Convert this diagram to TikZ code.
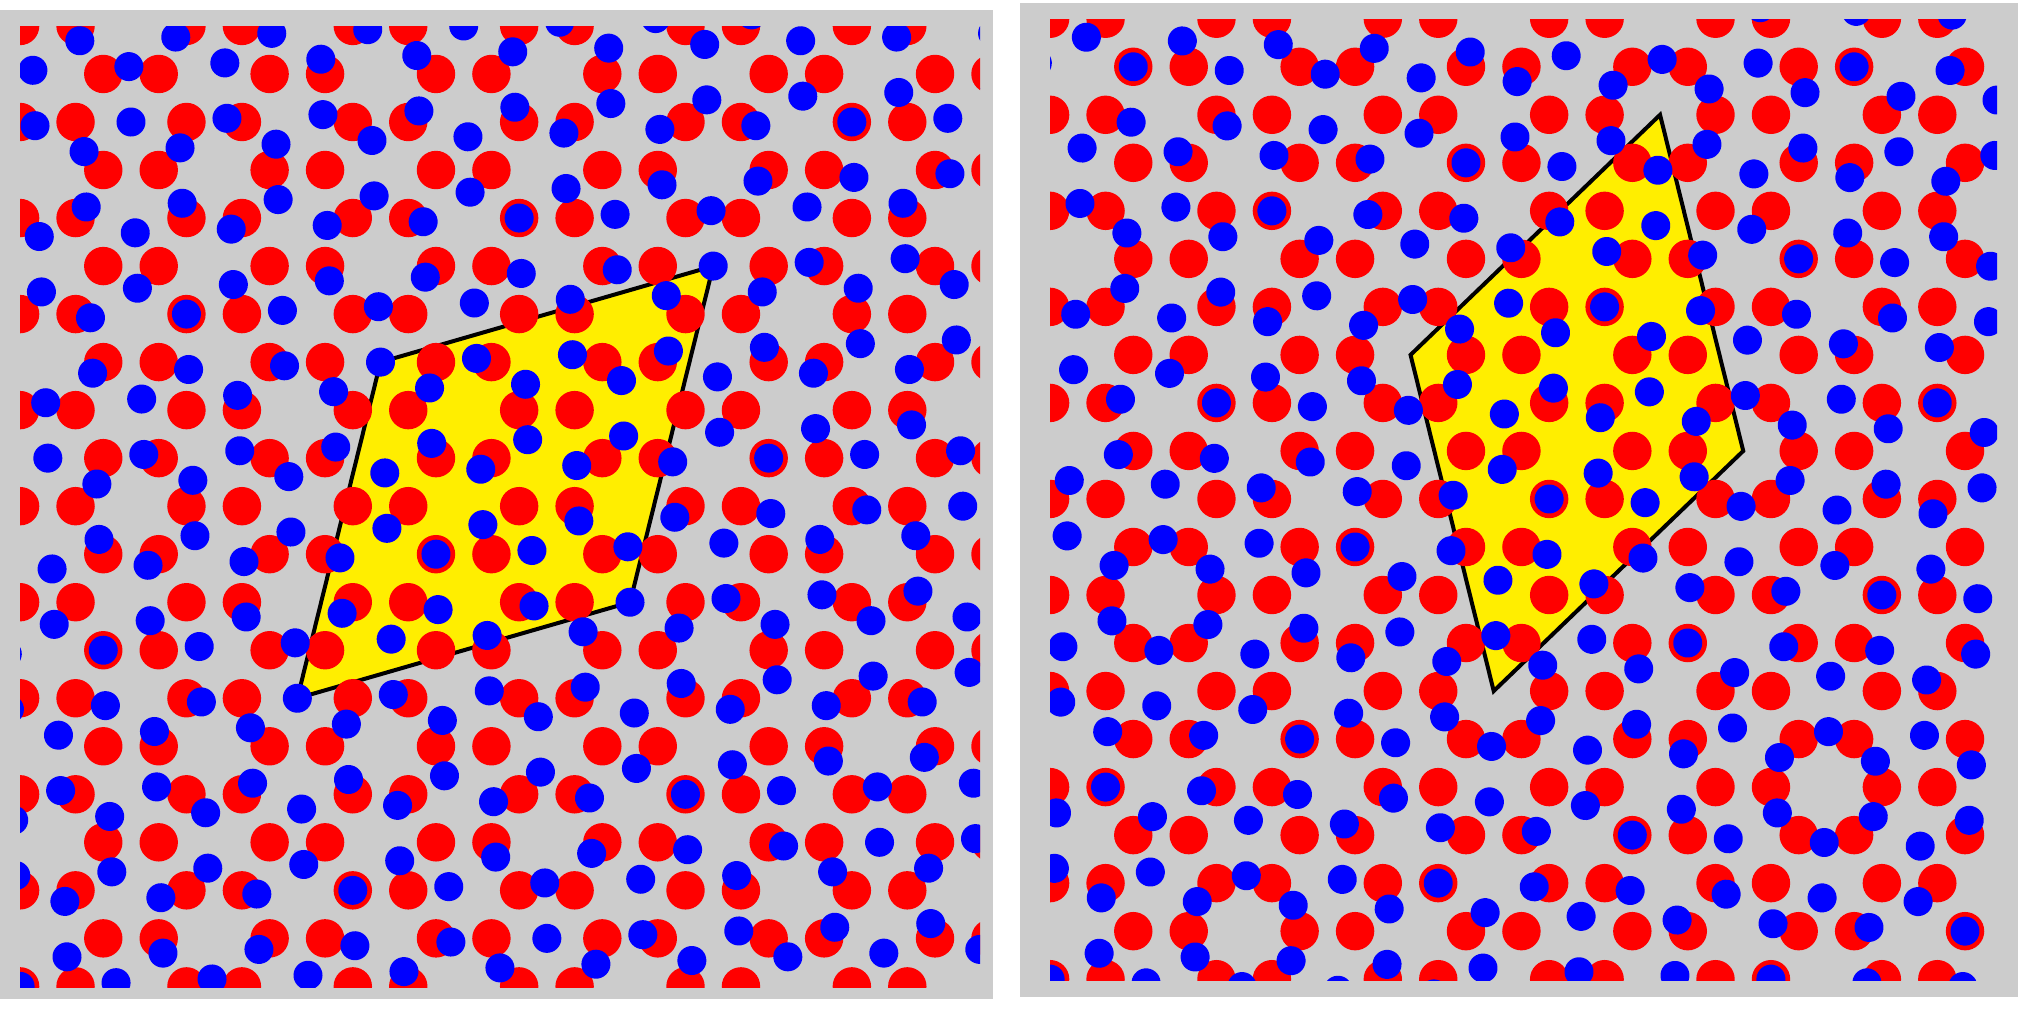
\documentclass[tikz,border=0pt]{standalone}
\usepackage{tikz}
\definecolor{panelgray}{RGB}{204,204,204}
\definecolor{cellyellow}{RGB}{255,238,0}
\definecolor{atomred}{RGB}{255,0,0}
\definecolor{atomblue}{RGB}{0,0,255}
\tikzset{
  panelbg/.style={fill=panelgray},
  supercell/.style={fill=cellyellow, draw=black, line width=0.04cm, line join=miter},
  redatom/.style={fill=atomred},
  blueatom/.style={fill=atomblue}
}
% honeycomb lattice of atoms: #1,#2 origin hexagon centre; #3..#6 index ranges; #7 style; #8 radius
\newcommand{\drawhoneycomb}[8]{%
  \foreach \hk in {#3,...,#4}{%
    \foreach \hl in {#5,...,#6}{%
      \pgfmathsetmacro\hcx{#1+83.175*\hk}%
      \pgfmathsetmacro\hcy{#2+96.042*\hl+48.021*Mod(\hk,2)}%
      \fill[#7] (\hcx+55.45,\hcy) circle[radius=#8];
      \fill[#7] (\hcx-55.45,\hcy) circle[radius=#8];
    }%
  }%
}
\begin{document}
\begin{tikzpicture}[x=0.01cm,y=-0.01cm]
\useasboundingbox (0,0) rectangle (2021,1009);
\fill[white] (0,0) rectangle (2021,1009);

% ---------------- left panel ----------------
\fill[panelbg] (0,10) rectangle (993.3,999.3);
\filldraw[supercell] (297.36,698.27) -- (380.53,362.12) -- (713.23,266.08) -- (630.06,602.23) -- cycle;
\begin{scope}
  \clip (20,26) rectangle (980,987);
  \drawhoneycomb{131}{122}{-2}{12}{-2}{10}{redatom}{0.192cm}
  \begin{scope}[rotate around={32.204:(186.45,314.1)}]
    \drawhoneycomb{131}{122}{-13}{15}{-10}{14}{blueatom}{0.145cm}
  \end{scope}
\end{scope}

% ---------------- right panel ----------------
\fill[panelbg] (1020,3.3) rectangle (2018,996.7);
\filldraw[supercell] (1410.53,354.9) -- (1660.05,114.8) -- (1743.23,450.95) -- (1493.7,691.05) -- cycle;
\begin{scope}
  \clip (1050,19) rectangle (1997,980);
  \drawhoneycomb{1161}{114.8}{-3}{11}{-2}{10}{redatom}{0.192cm}
  \begin{scope}[rotate around={27.796:(1133.3,66.8)}]
    \drawhoneycomb{1161}{114.8}{-17}{16}{-15}{14}{blueatom}{0.145cm}
  \end{scope}
\end{scope}
\end{tikzpicture}
\end{document}
